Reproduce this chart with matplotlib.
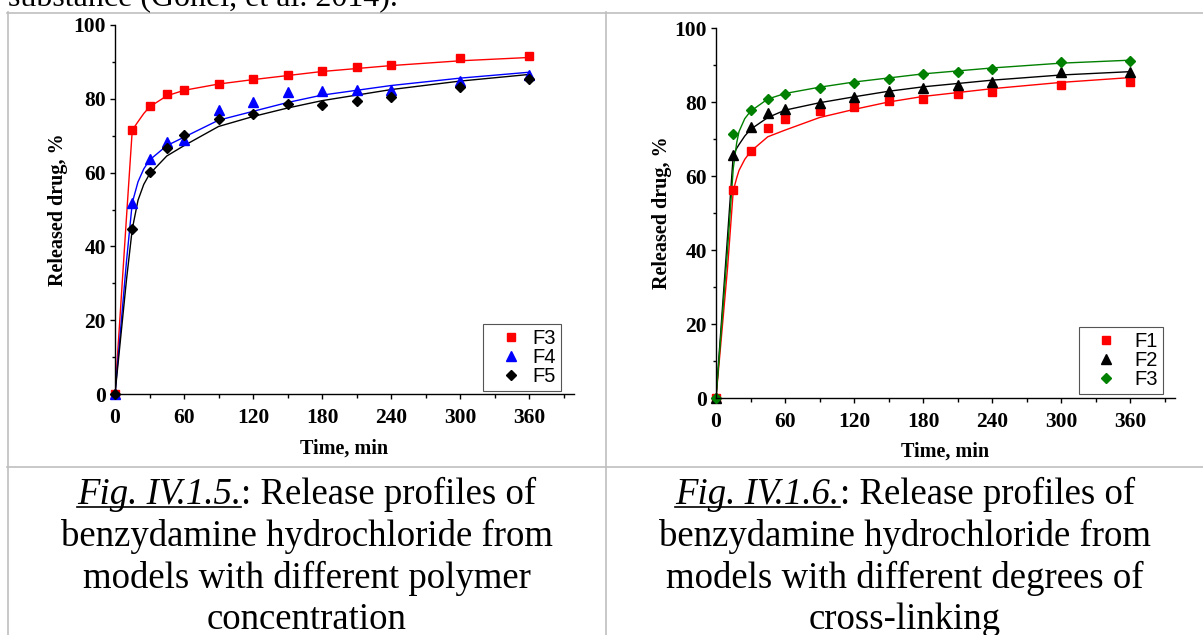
import matplotlib
matplotlib.use('Agg')
import matplotlib.pyplot as plt
from matplotlib.lines import Line2D
from matplotlib.ticker import MultipleLocator

W, H = 1203, 635

plt.rcParams['font.family'] = 'Liberation Serif'

# sampling times, min
t_points = [0, 15, 30, 45, 60, 90, 120, 150, 180, 210, 240, 300, 360]

# Fig. IV.1.5 - different polymer concentration (measured points)
f3_a = [0, 71.5, 78.0, 81.3, 82.5, 84.0, 85.3, 86.5, 87.6, 88.6, 89.2, 91.0, 91.5]
f4_a = [0, 51.8, 63.6, 68.3, 68.7, 77.0, 79.1, 81.8, 82.1, 82.4, 82.4, 84.9, 86.5]
f5_a = [0, 44.7, 60.2, 66.8, 70.3, 74.4, 76.0, 78.6, 78.4, 79.5, 80.5, 83.2, 85.4]

# fitted curves
fit_t_a = [0, 10, 15, 20, 25, 30, 45, 60, 90, 120, 150, 180, 240, 300, 360]
f3_fit_a = [0, 48, 71.5, 73.8, 76.0, 77.8, 80.8, 82.3, 84.0, 85.2, 86.3, 87.4, 89.0, 90.3, 91.2]
f4_fit_a = [0, 36, 51.8, 57.5, 61.0, 63.4, 67.3, 69.6, 74.2, 76.6, 79.0, 81.0, 83.6, 85.6, 87.2]
f5_fit_a = [0, 31, 44.7, 52.5, 56.8, 59.6, 64.5, 67.3, 72.5, 75.2, 77.5, 79.5, 82.5, 84.8, 86.6]

# Fig. IV.1.6 - different degrees of cross-linking (measured points)
f1_b = [0, 56.2, 66.8, 72.9, 75.3, 77.7, 78.7, 80.2, 80.8, 82.2, 82.7, 84.5, 85.4]
f2_b = [0, 65.7, 73.2, 76.9, 78.2, 79.8, 81.3, 82.9, 83.9, 84.7, 85.5, 88.2, 88.2]
f3_b = [0, 71.3, 77.9, 80.9, 82.2, 83.8, 85.2, 86.2, 87.6, 88.2, 89.0, 90.7, 91.1]

fit_t_b = [0, 10, 15, 18, 20, 25, 30, 45, 60, 90, 120, 150, 180, 240, 300, 360]
f1_fit_b = [0, 35, 56.0, 59.5, 61.5, 64.5, 66.6, 70.6, 72.4, 75.8, 78.0, 80.0, 81.5, 83.6, 85.3, 86.6]
f2_fit_b = [0, 43.5, 65.7, 67.5, 68.5, 70.8, 72.6, 75.8, 77.8, 79.8, 81.4, 82.9, 84.1, 85.9, 87.3, 88.2]
f3_fit_b = [0, 40, 62.0, 69.0, 72.0, 75.5, 77.5, 80.8, 82.3, 84.0, 85.4, 86.5, 87.6, 89.2, 90.5, 91.3]

xticks = [0, 60, 120, 180, 240, 300, 360]
yticks = [0, 20, 40, 60, 80, 100]

RED, BLUE, GREEN = '#ff0000', '#0000ff', '#008000'
GRID = '#bfbfbf'


def px(x, y):
    return x / W, 1 - y / H


def style_axes(ax):
    ax.set_xlim(0, 399)
    ax.set_ylim(0, 100)
    ax.spines[['top', 'right']].set_visible(False)
    for s in ('left', 'bottom'):
        ax.spines[s].set_linewidth(1.0)
    ax.set_xticks(xticks)
    ax.set_yticks(yticks)
    ax.xaxis.set_minor_locator(MultipleLocator(30))
    ax.yaxis.set_minor_locator(MultipleLocator(10))
    ax.tick_params(which='major', direction='out', width=1, length=3.6, labelsize=15.5)
    ax.tick_params(which='minor', direction='out', width=1, length=2.2)
    ax.tick_params(axis='x', which='both', pad=6.5)
    ax.tick_params(axis='y', which='major', pad=3)
    ax.tick_params(axis='x', which='minor', length=3)
    for lab in ax.get_xticklabels() + ax.get_yticklabels():
        lab.set_fontweight('bold')
    ax.set_xlabel('Time, min', fontsize=14.5, fontweight='bold')
    ax.set_ylabel('Released drug, %', fontsize=14.5, fontweight='bold')
    ax.xaxis.label.set_va('center')
    ax.yaxis.label.set_va('center')


fig = plt.figure(figsize=(W / 100, H / 100), dpi=100)
fig.patch.set_facecolor('white')

legend_style = dict(loc='lower right', borderaxespad=0,
                    prop={'family': 'Liberation Sans', 'size': 14.5}, fancybox=False,
                    edgecolor='#555555', framealpha=1, borderpad=0.25, labelspacing=0.0)

# ---- left chart
ax1 = fig.add_axes([115 / W, 1 - 394 / H, 459 / W, 369 / H])
ax1.plot(fit_t_a, f3_fit_a, color=RED, lw=1.0)
ax1.plot(fit_t_a, f4_fit_a, color=BLUE, lw=1.0)
ax1.plot(fit_t_a, f5_fit_a, color='black', lw=1.0)
ax1.plot(t_points, f3_a, 's', color=RED, ms=6.0, ls='none', label='F3', clip_on=False)
ax1.plot(t_points, f4_a, '^', color=BLUE, ms=7.0, ls='none', label='F4', clip_on=False)
ax1.plot(t_points, f5_a, 'D', color='black', ms=5.6, ls='none', label='F5', clip_on=False)
style_axes(ax1)
ax1.xaxis.set_label_coords(0.5, -0.149)
ax1.yaxis.set_label_coords(-0.124, 0.5)
leg1 = ax1.legend(bbox_to_anchor=(0.972, 0.008), handlelength=2.3,
                  handletextpad=-0.1, **legend_style)
leg1.get_frame().set_linewidth(0.8)

# ---- right chart
ax2 = fig.add_axes([716 / W, 1 - 398 / H, 459 / W, 370 / H])
ax2.plot(fit_t_b, f1_fit_b, color=RED, lw=1.0)
ax2.plot(fit_t_b, f2_fit_b, color='black', lw=1.0)
ax2.plot(fit_t_b, f3_fit_b, color=GREEN, lw=1.0)
ax2.plot(t_points, f1_b, 's', color=RED, ms=6.0, ls='none', label='F1', clip_on=False)
ax2.plot(t_points, f2_b, '^', color='black', ms=7.0, ls='none', label='F2', clip_on=False)
ax2.plot(t_points, f3_b, 'D', color=GREEN, ms=5.6, ls='none', label='F3', clip_on=False)
style_axes(ax2)
ax2.xaxis.set_label_coords(0.5, -0.146)
ax2.yaxis.set_label_coords(-0.118, 0.5)
leg2 = ax2.legend(bbox_to_anchor=(0.974, 0.011), handlelength=2.2,
                  handletextpad=0.3, **legend_style)
leg2.get_frame().set_linewidth(0.8)

# ---- table borders
for xs, ys in [([7, W], [12.5, 12.5]), ([7, W], [467, 467]),
               ([8, 8], [12, H]), ([606, 606], [12, H])]:
    fig.add_artist(Line2D([x / W for x in xs], [1 - y / H for y in ys],
                          color=GRID, lw=1.2))

# ---- text above the table (cut off by the page edge)
fig.text(*px(8, 6), 'substance (Gohel, et al. 2014).', fontsize=23, va='baseline')

# ---- captions
cap_fs = 26.5
baselines = [504, 546, 588, 629]
renderer = fig.canvas.get_renderer()


def caption(cx, fig_no, first_rest, other_lines):
    t1 = fig.text(0, 0, fig_no, fontsize=cap_fs, style='italic', va='baseline')
    t2 = fig.text(0, 0, first_rest, fontsize=cap_fs, va='baseline')
    w1 = t1.get_window_extent(renderer).width
    w2 = t2.get_window_extent(renderer).width
    x0 = cx - (w1 + w2) / 2
    t1.set_position(px(x0, baselines[0]))
    t2.set_position(px(x0 + w1, baselines[0]))
    fig.add_artist(Line2D([x0 / W, (x0 + w1) / W], [1 - (baselines[0] + 3) / H] * 2,
                          color='black', lw=1.2))
    for line, y in zip(other_lines, baselines[1:]):
        fig.text(*px(cx, y), line, fontsize=cap_fs, ha='center', va='baseline')


caption(307, 'Fig. IV.1.5.', ': Release profiles of',
        ['benzydamine hydrochloride from', 'models with different polymer', 'concentration'])
caption(905, 'Fig. IV.1.6.', ': Release profiles of',
        ['benzydamine hydrochloride from', 'models with different degrees of', 'cross-linking'])

fig.savefig('out.png', dpi=100)
